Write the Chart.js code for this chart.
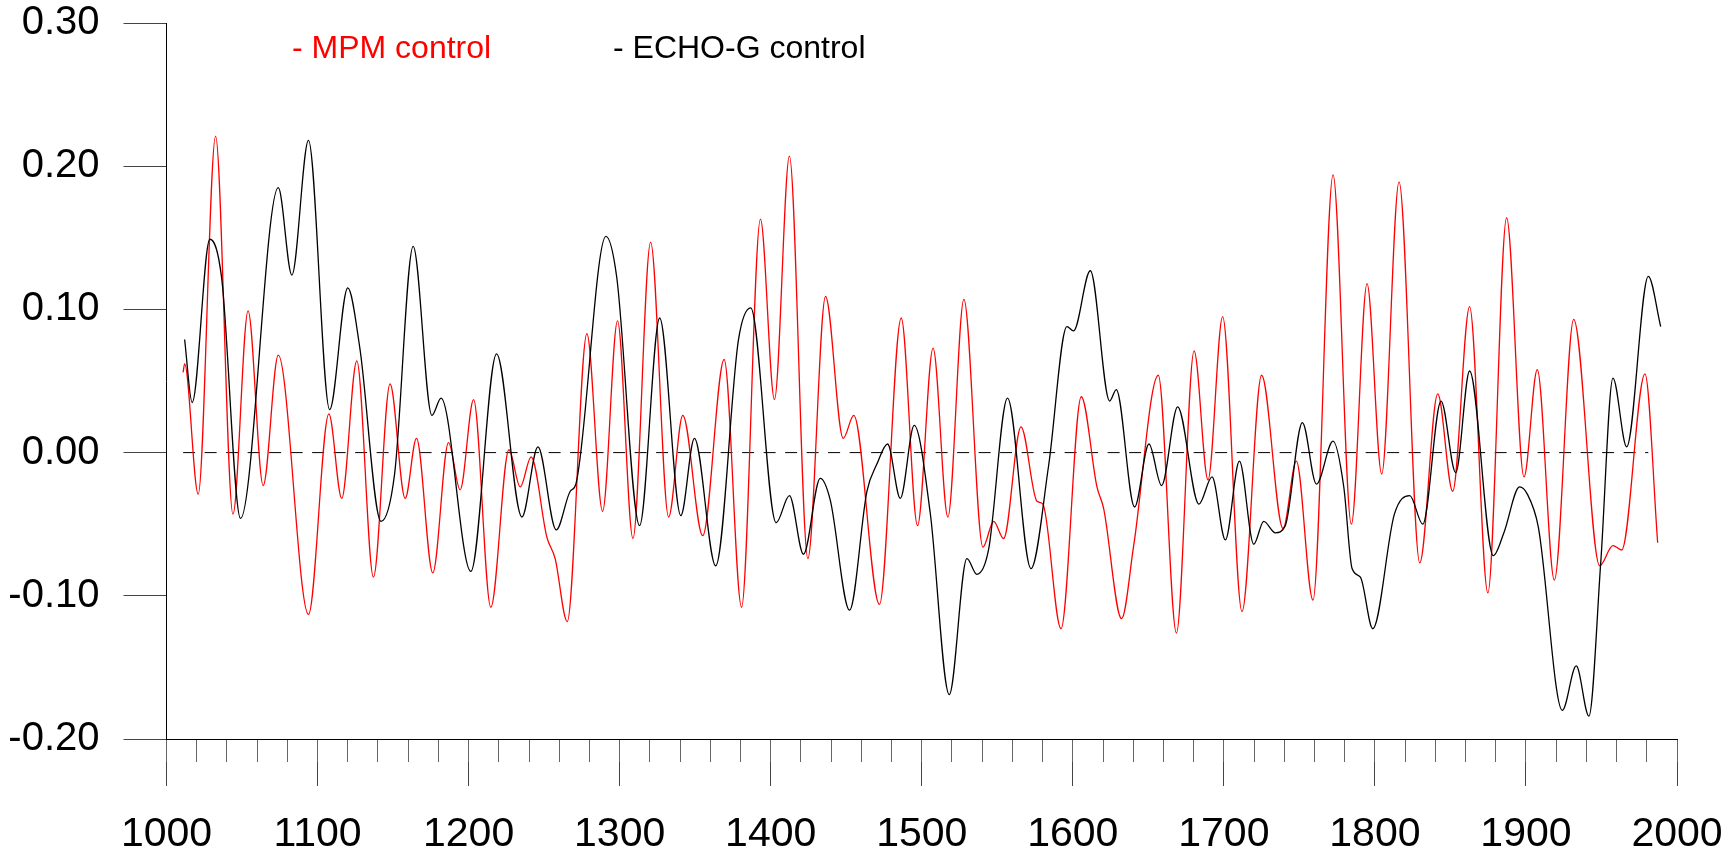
<!DOCTYPE html>
<html>
<head>
<meta charset="utf-8">
<title>MPM control / ECHO-G control</title>
<script src="https://cdn.jsdelivr.net/npm/chart.js@4.4.1/dist/chart.umd.min.js"></script>
<style>
	html, body { margin: 0; padding: 0; background: #fff; }
	canvas { display: block; }
</style>
</head>
<body>
<canvas id="chart" width="1736" height="856"></canvas>
<script>
// MPM control run (red)
var mpmYears = [1011, 1012, 1021, 1032.5, 1044, 1054, 1064, 1074, 1094, 1107.5, 1116, 1126, 1137, 1148, 1158, 1165.5,
	1176.3, 1186.7, 1194.4, 1203.3, 1214.7, 1226.7, 1234.2, 1241.4, 1251.8, 1257.3, 1265.3, 1278.3, 1288.7, 1298.6,
	1308.8, 1320.5, 1332.4, 1341.8, 1355, 1369.2, 1380.7, 1393.2, 1402.5, 1412.4, 1424.6, 1436.3, 1448, 1455, 1472,
	1486.4, 1497.2, 1507.5, 1517.3, 1527.9, 1540.5, 1547.6, 1554.2, 1565.7, 1576.3, 1580.2, 1592.2, 1605.6, 1616,
	1620.4, 1632.3, 1640.3, 1656.6, 1668.6, 1680.3, 1689.5, 1699.2, 1712, 1725, 1739.2, 1748, 1759, 1772.3, 1784.4,
	1794.8, 1804.5, 1816, 1829.7, 1841.6, 1851.5, 1862.7, 1874.8, 1887.2, 1898.7, 1907.5, 1918.8, 1931.6, 1948.8,
	1957.6, 1963.4, 1978.8, 1987.2];
var mpmValues = [0.056, 0.062, -0.029, 0.221, -0.043, 0.099, -0.023, 0.068, -0.113, 0.027, -0.032, 0.064, -0.087, 0.048, -0.032, 0.010,
	-0.084, 0.007, -0.026, 0.037, -0.108, 0.002, -0.024, -0.003, -0.059, -0.074, -0.118, 0.083, -0.041, 0.092,
	-0.060, 0.147, -0.045, 0.026, -0.058, 0.065, -0.108, 0.163, 0.037, 0.207, -0.074, 0.109, 0.010, 0.026, -0.106,
	0.094, -0.051, 0.073, -0.045, 0.107, -0.066, -0.048, -0.060, 0.018, -0.034, -0.036, -0.123, 0.039, -0.024,
	-0.039, -0.116, -0.065, 0.054, -0.126, 0.071, -0.019, 0.095, -0.111, 0.054, -0.053, -0.006, -0.103, 0.194, -0.050,
	0.118, -0.015, 0.189, -0.077, 0.041, -0.027, 0.102, -0.098, 0.164, -0.017, 0.058, -0.089, 0.093, -0.079,
	-0.065, -0.068, 0.055, -0.063];

// ECHO-G control run (black)
var echoYears = [1012, 1017, 1028.7, 1036.5, 1049, 1074, 1083, 1094, 1108, 1120, 1128, 1142, 1151, 1163.3, 1175.7, 1181.8,
	1201.5, 1218.5, 1235.3, 1245.9, 1258, 1267.3, 1271, 1290.9, 1298, 1313.2, 1326.5, 1340.5, 1349.5, 1363.6, 1378.7,
	1386.8, 1403.6, 1412.4, 1421.7, 1432.8, 1439.4, 1452.2, 1463.7, 1470.3, 1477.4, 1485.8, 1495, 1505.6, 1518.2,
	1529.9, 1536.5, 1544.2, 1556.8, 1572.3, 1584, 1596.1, 1600.5, 1611.6, 1624.4, 1628.8, 1640.9, 1650.4, 1658.8,
	1669.4, 1683.5, 1692.2, 1701, 1710.3, 1719.8, 1726.4, 1734.1, 1740.7, 1752, 1761.3, 1772.3, 1779.4, 1784.9,
	1790.4, 1798.6, 1812.9, 1823.1, 1831.7, 1843.8, 1853.5, 1862.7, 1878.4, 1885.4, 1895.8, 1900.9, 1908.2, 1924.1,
	1933.3, 1941.7, 1949.5, 1957.6, 1966.7, 1981, 1989.2];
var echoValues = [0.079, 0.035, 0.149, 0.122, -0.046, 0.185, 0.124, 0.218, 0.030, 0.115, 0.073, -0.048, -0.015, 0.144, 0.026, 0.038,
	-0.083, 0.069, -0.045, 0.004, -0.054, -0.027, -0.022, 0.151, 0.123, -0.051, 0.094, -0.044, 0.010, -0.079, 0.079,
	0.101, -0.049, -0.030, -0.071, -0.018, -0.033, -0.110, -0.027, -0.008, 0.006, -0.032, 0.019, -0.042, -0.169,
	-0.074, -0.085, -0.068, 0.038, -0.081, -0.009, 0.088, 0.085, 0.127, 0.036, 0.044, -0.038, 0.006, -0.023,
	0.032, -0.036, -0.017, -0.061, -0.006, -0.064, -0.048, -0.056, -0.051, 0.021, -0.022, 0.008, -0.024, -0.081,
	-0.087, -0.123, -0.043, -0.030, -0.050, 0.036, -0.014, 0.057, -0.072, -0.056, -0.024, -0.029, -0.052, -0.180,
	-0.149, -0.184, -0.077, 0.052, 0.004, 0.123, 0.088];

// dashed reference line at zero
var zeroYears = [1011, 1981];
var zeroValues = [0, 0];

var yMin = -0.2, yMax = 0.3, yStep = 0.1;
var xMin = 1000, xMax = 2000, xMinorStep = 20, xMajorStep = 100;

var FONT = '"Liberation Sans", Arial, sans-serif';

function toPoints(xs, ys) {
	return xs.map(function(x, i) { return { x: x, y: ys[i] }; });
}

// series names written in their own colour above the curves
var seriesNotes = {
	id: 'seriesNotes',
	afterDraw: function(chart) {
		var ctx = chart.ctx;
		var xs = [292, 613];
		ctx.save();
		ctx.font = '32px ' + FONT;
		ctx.textBaseline = 'alphabetic';
		ctx.textAlign = 'left';
		[0, 1].forEach(function(i) {
			var ds = chart.data.datasets[i];
			ctx.fillStyle = ds.borderColor;
			ctx.fillText('- ' + ds.label, xs[i], 58);
		});
		ctx.restore();
	}
};

Chart.defaults.font.family = FONT;
Chart.defaults.color = '#000';

var ctx = document.getElementById('chart').getContext('2d');
var chart = new Chart(ctx, {
	type: 'line',
	data: {
		datasets: [{
			label: 'MPM control',
			data: toPoints(mpmYears, mpmValues),
			borderColor: '#ff0000',
			borderWidth: 1.3,
			cubicInterpolationMode: 'monotone',
			order: 2
		}, {
			label: 'ECHO-G control',
			data: toPoints(echoYears, echoValues),
			borderColor: '#000000',
			borderWidth: 1.3,
			cubicInterpolationMode: 'monotone',
			order: 1
		}, {
			label: 'zero',
			data: toPoints(zeroYears, zeroValues),
			borderColor: '#000000',
			borderWidth: 1,
			borderDash: [12, 9.5],
			order: 3
		}]
	},
	options: {
		responsive: false,
		devicePixelRatio: 1,
		animation: false,
		layout: { padding: { left: 8, right: 59, top: 23, bottom: 0 } },
		elements: { point: { radius: 0, hoverRadius: 0 } },
		plugins: {
			legend: { display: false },
			tooltip: { enabled: false }
		},
		scales: {
			x: {
				type: 'linear',
				position: 'bottom',
				min: xMin,
				max: xMax,
				ticks: { stepSize: xMinorStep, display: false },
				grid: { drawOnChartArea: false, tickLength: 23, color: '#666', lineWidth: 1 },
				border: { display: true, color: '#000', width: 1 }
			},
			xMajor: {
				type: 'linear',
				position: 'bottom',
				min: xMin,
				max: xMax,
				ticks: {
					stepSize: xMajorStep,
					padding: 24,
					font: { size: 41 },
					color: '#000',
					maxRotation: 0,
					callback: function(v) { return String(v); }
				},
				grid: { drawOnChartArea: false, tickLength: 24, color: '#444', lineWidth: 1 },
				border: { display: false },
				afterFit: function(scale) {
					scale.height = 94;
					scale.paddingLeft = 0;
					scale.paddingRight = 0;
				}
			},
			y: {
				type: 'linear',
				min: yMin,
				max: yMax,
				ticks: {
					stepSize: yStep,
					padding: 24,
					font: { size: 40 },
					color: '#000',
					callback: function(v) { return v.toFixed(2); }
				},
				grid: { drawOnChartArea: false, tickLength: 43, color: '#444', lineWidth: 1 },
				border: { display: true, color: '#000', width: 1 },
				afterFit: function(scale) {
					scale.width = 158.5;
					scale.paddingTop = 0;
					scale.paddingBottom = 0;
				}
			}
		}
	},
	plugins: [seriesNotes]
});
</script>
</body>
</html>
